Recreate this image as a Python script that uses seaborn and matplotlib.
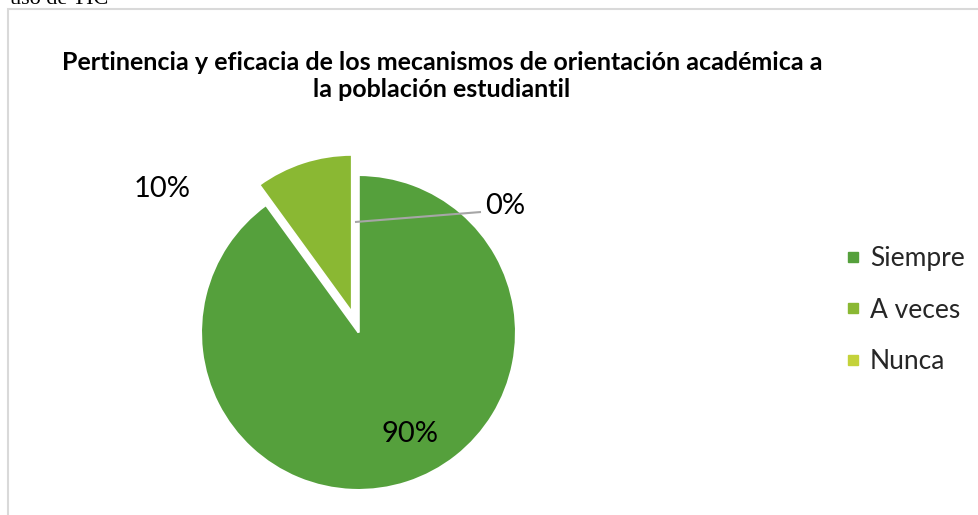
import matplotlib
matplotlib.use("Agg")
import matplotlib.pyplot as plt
import seaborn as sns
from matplotlib.patches import Rectangle
from matplotlib.lines import Line2D

categories = ["Siempre", "A veces", "Nunca"]
values = [90, 10, 0]
labels = ["90%", "10%", "0%"]
colors = ["#55A03C", "#8AB833", "#C4D23A"]
title = "Pertinencia y eficacia de los mecanismos de orientación académica a\nla población estudiantil"

sns.set_theme(style="white")
plt.rcParams["font.family"] = ["Lato", "DejaVu Sans"]

W, H = 979, 515
fig = plt.figure(figsize=(W / 100, H / 100), dpi=100)
fig.patch.set_facecolor("white")

# chart border (partially outside figure)
fig.patches.append(Rectangle((8 / W, -0.1), 1.2, 1 - 9 / H + 0.1, transform=fig.transFigure,
                             fill=False, edgecolor="#D9D9D9", linewidth=1.5, clip_on=False))

# cut-off text above the chart
fig.text(10 / W, 1 - 4 / H, "uso de TIC", family="Liberation Serif", fontsize=16,
         va="baseline", ha="left", color="black")

cx, cy, R = 358.5, 332.5, 157.5
k = 1.4
side = 2 * k * R
ax = fig.add_axes([(cx - side / 2) / W, (H - cy - side / 2) / H, side / W, side / H])
ax.axis("off")

wedges, _ = ax.pie(values, colors=colors, startangle=90, counterclock=False,
                   explode=[0, 0.135, 0], radius=1,
                   wedgeprops=dict(edgecolor="white", linewidth=1.5))
ax.set_xlim(-k, k)
ax.set_ylim(-k, k)
for w in wedges:
    w.set_clip_on(False)

def px(x, y):
    return ((x - cx) / R, -(y - cy) / R)

fs_lab = 21
ax.text(*px(410, 434), labels[0], ha="center", va="center", fontsize=fs_lab, color="black")
ax.text(*px(162, 189), labels[1], ha="center", va="center", fontsize=fs_lab, color="black")
ax.text(*px(505, 206), labels[2], ha="center", va="center", fontsize=fs_lab, color="black")
x0, y0 = px(355, 222)
x1, y1 = px(481, 212)
ax.plot([x0, x1], [y0, y1], color="#A6A6A6", lw=1.5, solid_capstyle="butt", clip_on=False)

fig.text(442 / W, 1 - 76 / H, title, ha="center", va="center", fontsize=18,
         fontweight="bold", color="black", linespacing=1.2)

handles = [Line2D([0], [0], marker="s", linestyle="none", markersize=7.5,
                  markerfacecolor=c, markeredgecolor=c) for c in colors]
fig.legend(handles, categories, loc="center left", bbox_to_anchor=(846 / W, 1 - 310 / H),
           frameon=False, fontsize=19, handlelength=0.5, handletextpad=0.4,
           labelspacing=1.0, borderaxespad=0, borderpad=0)

fig.savefig("out.png", dpi=100, facecolor="white")
